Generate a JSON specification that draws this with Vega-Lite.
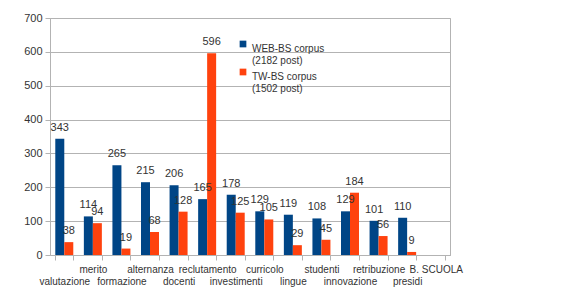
{
  "$schema": "https://vega.github.io/schema/vega-lite/v6.json",
  "autosize": "none",
  "width": 400,
  "height": 237,
  "padding": {"left": 50, "top": 18, "right": 112, "bottom": 53},
  "background": "white",
  "config": {
    "font": "Liberation Sans",
    "view": {"stroke": "#b3b3b3", "strokeWidth": 1},
    "axis": {"labelColor": "#333333", "labelFontSize": 11, "tickColor": "#b3b3b3", "domainColor": "#b3b3b3", "gridColor": "#b3b3b3"}
  },
  "data": {
    "values": [
      {"cat": "valutazione", "series": "WEB-BS corpus", "value": 343},
      {"cat": "valutazione", "series": "TW-BS corpus", "value": 38},
      {"cat": "merito", "series": "WEB-BS corpus", "value": 114},
      {"cat": "merito", "series": "TW-BS corpus", "value": 94},
      {"cat": "formazione", "series": "WEB-BS corpus", "value": 265},
      {"cat": "formazione", "series": "TW-BS corpus", "value": 19},
      {"cat": "alternanza", "series": "WEB-BS corpus", "value": 215},
      {"cat": "alternanza", "series": "TW-BS corpus", "value": 68},
      {"cat": "docenti", "series": "WEB-BS corpus", "value": 206},
      {"cat": "docenti", "series": "TW-BS corpus", "value": 128},
      {"cat": "reclutamento", "series": "WEB-BS corpus", "value": 165},
      {"cat": "reclutamento", "series": "TW-BS corpus", "value": 596},
      {"cat": "investimenti", "series": "WEB-BS corpus", "value": 178},
      {"cat": "investimenti", "series": "TW-BS corpus", "value": 125},
      {"cat": "curricolo", "series": "WEB-BS corpus", "value": 129},
      {"cat": "curricolo", "series": "TW-BS corpus", "value": 105},
      {"cat": "lingue", "series": "WEB-BS corpus", "value": 119},
      {"cat": "lingue", "series": "TW-BS corpus", "value": 29},
      {"cat": "studenti", "series": "WEB-BS corpus", "value": 108},
      {"cat": "studenti", "series": "TW-BS corpus", "value": 45},
      {"cat": "innovazione", "series": "WEB-BS corpus", "value": 129},
      {"cat": "innovazione", "series": "TW-BS corpus", "value": 184},
      {"cat": "retribuzione", "series": "WEB-BS corpus", "value": 101},
      {"cat": "retribuzione", "series": "TW-BS corpus", "value": 56},
      {"cat": "presidi", "series": "WEB-BS corpus", "value": 110},
      {"cat": "presidi", "series": "TW-BS corpus", "value": 9}
    ]
  },
  "encoding": {
    "x": {
      "field": "cat",
      "type": "nominal",
      "title": null,
      "scale": {
        "domain": ["valutazione", "merito", "formazione", "alternanza", "docenti", "reclutamento", "investimenti", "curricolo", "lingue", "studenti", "innovazione", "retribuzione", "presidi", "B. SCUOLA"],
        "paddingInner": 0.37,
        "paddingOuter": 0.185
      },
      "axis": {
        "labelAngle": 0,
        "tickBand": "extent",
        "tickSize": 5,
        "labelPadding": 4,
        "labelFontSize": 10,
        "labelLineHeight": 12,
        "labelBaseline": "top",
        "labelOverlap": false,
        "labelExpr": "indexof(['merito','alternanza','reclutamento','curricolo','studenti','retribuzione','B. SCUOLA'], datum.value) >= 0 ? datum.label : ['', datum.label]"
      }
    },
    "xOffset": {"field": "series", "type": "nominal", "sort": ["WEB-BS corpus", "TW-BS corpus"]},
    "y": {
      "field": "value",
      "type": "quantitative",
      "title": null,
      "scale": {"domain": [0, 700], "nice": false},
      "axis": {"values": [0, 100, 200, 300, 400, 500, 600, 700], "tickSize": 5, "labelPadding": 3, "grid": true}
    }
  },
  "layer": [
    {
      "mark": {"type": "bar"},
      "encoding": {
        "color": {
          "field": "series",
          "type": "nominal",
          "scale": {"domain": ["WEB-BS corpus", "TW-BS corpus"], "range": ["#004586", "#ff420e"]},
          "legend": {
            "title": null,
            "orient": "none",
            "legendX": 188,
            "legendY": 21,
            "symbolType": "square",
            "symbolSize": 45,
            "symbolStrokeWidth": 0,
            "labelFontSize": 10,
            "labelColor": "#333333",
            "labelLineHeight": 13,
            "labelBaseline": "top",
            "labelOffset": 4,
            "rowPadding": 1,
            "symbolOffset": 0,
            "labelExpr": "datum.label == 'WEB-BS corpus' ? ['WEB-BS corpus', '(2182 post)'] : ['TW-BS corpus', '(1502 post)']"
          }
        }
      }
    },
    {
      "mark": {"type": "text", "dy": -6, "fontSize": 11, "color": "#333333", "baseline": "bottom"},
      "encoding": {"text": {"field": "value", "type": "quantitative"}}
    }
  ]
}
